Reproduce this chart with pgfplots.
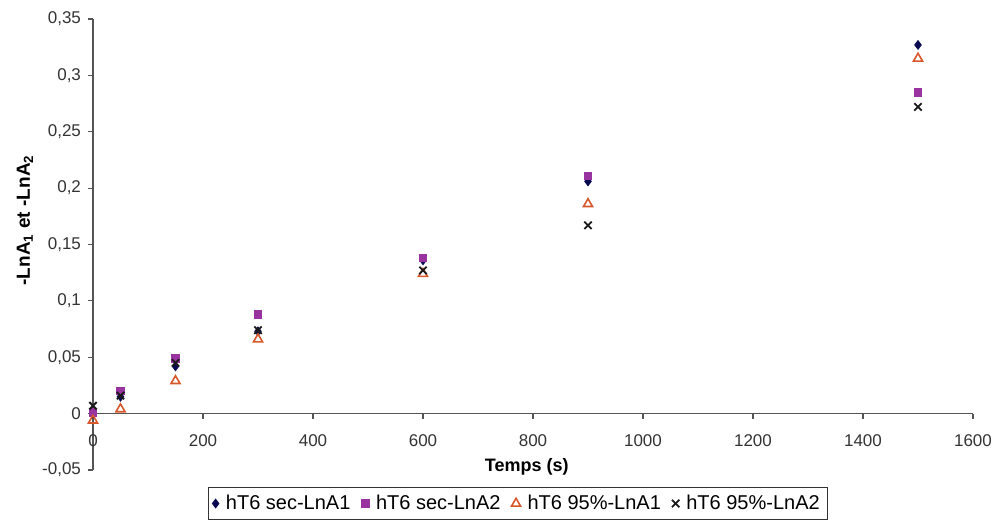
\documentclass[border=0pt]{standalone}
\usepackage{fontspec}
\setmainfont{Liberation Sans}
\usepackage{pgfplots}
\pgfplotsset{compat=1.18}
\definecolor{cdia}{HTML}{0A0A50}
\definecolor{csq}{HTML}{9933A0}
\definecolor{ctri}{HTML}{D9582B}
\definecolor{ccross}{HTML}{1A1A1A}
\definecolor{caxis}{HTML}{555555}
\begin{document}
\begin{tikzpicture}
\path[use as bounding box] (0,0) rectangle (498.5pt,260pt);
\begin{axis}[
  at={(46.5pt,25pt)}, anchor=south west,
  scale only axis, width=440pt, height=225.5pt,
  xmin=0, xmax=1600, ymin=-0.05, ymax=0.35,
  axis x line=middle, axis y line=left,
  hide obscured x ticks=false, hide obscured y ticks=false,
  axis line style={-, caxis, line width=0.6pt},
  tick style={caxis, line width=0.6pt},
  tick align=outside, major tick length=2.5pt,
  xtick={0,200,400,600,800,1000,1200,1400,1600},
  xticklabels={0,200,400,600,800,1000,1200,1400,1600},
  ytick={-0.05,0,0.05,0.1,0.15,0.2,0.25,0.3,0.35},
  yticklabels={{-0,05},{0},{0,05},{0,1},{0,15},{0,2},{0,25},{0,3},{0,35}},
  ticklabel style={font=\fontsize{8.5}{10}\selectfont, text=black!80},
  xticklabel style={yshift=-4.5pt},
  xlabel={\textbf{Temps (s)}},
  xlabel style={at={(axis description cs:0.493,0.008)}, anchor=center, font=\fontsize{9}{11}\selectfont},
  ylabel={\textbf{-LnA\textsubscript{1} et -LnA\textsubscript{2}}},
  ylabel style={at={(axis description cs:-0.0773,0.554)}, anchor=center, font=\fontsize{9.5}{11}\selectfont},
  legend columns=4,
  legend style={at={(axis description cs:0.483,-0.0743)}, anchor=center,
    draw=black!80, font=\fontsize{10}{12}\selectfont, inner xsep=2pt, inner ysep=1.5pt,
    /tikz/every even column/.append style={column sep=3.5pt},
    /tikz/every odd column/.append style={column sep=1.5pt}},
  legend cell align=left,
  clip=false,
]
\addplot[only marks, mark=diamond*, mark size=2.2pt, color=cdia] coordinates {
(0,0.000) (50,0.015) (150,0.042) (300,0.073) (600,0.136) (900,0.206) (1500,0.327)};
\addlegendentry{hT6 sec-LnA1}
\addplot[only marks, mark=square*, mark size=1.9pt, color=csq] coordinates {
(0,0.001) (50,0.020) (150,0.049) (300,0.088) (600,0.138) (900,0.211) (1500,0.285)};
\addlegendentry{hT6 sec-LnA2}
\addplot[only marks, mark=triangle, mark size=2.6pt, color=ctri, mark options={line width=0.8pt}] coordinates {
(0,-0.006) (50,0.004) (150,0.029) (300,0.066) (600,0.124) (900,0.186) (1500,0.315)};
\addlegendentry{hT6 95\%-LnA1}
\addplot[only marks, mark=x, mark size=2.6pt, color=ccross, mark options={line width=0.9pt}] coordinates {
(0,0.007) (50,0.016) (150,0.045) (300,0.074) (600,0.127) (900,0.167) (1500,0.272)};
\addlegendentry{hT6 95\%-LnA2}
\end{axis}
\end{tikzpicture}
\end{document}
